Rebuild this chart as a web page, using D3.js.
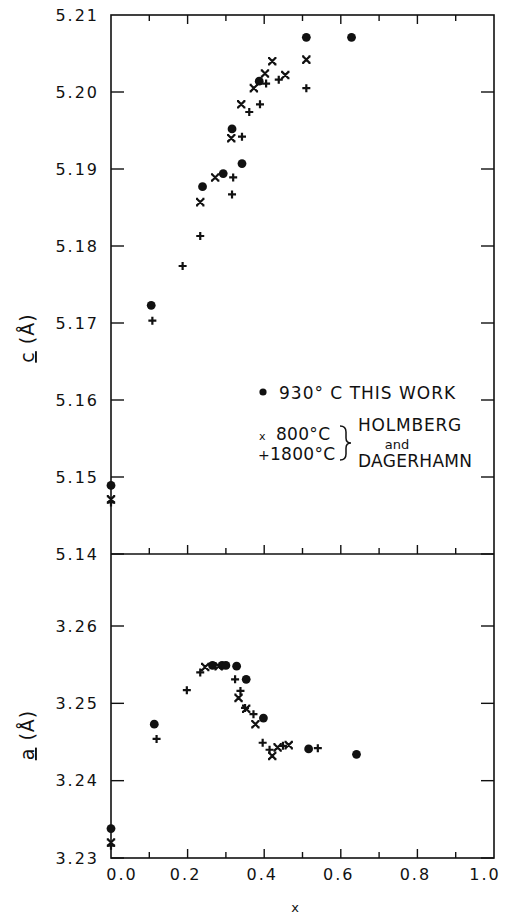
<!doctype html>
<html lang="en">
<head>
<meta charset="utf-8">
<title>c and a vs x</title>
<script src="https://d3js.org/d3.v7.min.js"></script>
<style>
  body { margin: 0; background: #fff; }
  svg { display: block; font-family: 'DejaVu Sans', sans-serif; }
  .tick-label { font-size: 16px; letter-spacing: 2px; fill: #111; }
  .legend { font-size: 16px; fill: #111; }
</style>
</head>
<body>
<svg id="chart" width="506" height="917"></svg>
<script>
// c(Å) panel
const cWorkX = [0, 0.105, 0.239, 0.293, 0.316, 0.342, 0.387, 0.510, 0.628];
const cWork  = [5.1489, 5.1723, 5.1877, 5.1894, 5.1952, 5.1907, 5.2014, 5.2071, 5.2071];
const c800X  = [0, 0.233, 0.272, 0.314, 0.340, 0.373, 0.402, 0.421, 0.455, 0.510];
const c800   = [5.1471, 5.1857, 5.1889, 5.1940, 5.1984, 5.2005, 5.2024, 5.2040, 5.2022, 5.2042];
const c1800X = [0, 0.108, 0.187, 0.233, 0.316, 0.319, 0.342, 0.361, 0.389, 0.405, 0.438, 0.510];
const c1800  = [5.1467, 5.1703, 5.1774, 5.1813, 5.1867, 5.1889, 5.1942, 5.1974, 5.1984, 5.2011, 5.2016, 5.2005];

// a(Å) panel
const aWorkX = [0, 0.113, 0.265, 0.290, 0.300, 0.328, 0.353, 0.398, 0.516, 0.641];
const aWork  = [3.2338, 3.2473, 3.2549, 3.2549, 3.2549, 3.2548, 3.2531, 3.2481, 3.2441, 3.2434];
const a800X  = [0, 0.246, 0.281, 0.333, 0.353, 0.377, 0.421, 0.435, 0.464];
const a800   = [3.2320, 3.2547, 3.2548, 3.2507, 3.2493, 3.2473, 3.2432, 3.2443, 3.2446];
const a1800X = [0, 0.119, 0.198, 0.233, 0.324, 0.338, 0.350, 0.372, 0.396, 0.414, 0.449, 0.540];
const a1800  = [3.2316, 3.2454, 3.2517, 3.2540, 3.2531, 3.2516, 3.2494, 3.2486, 3.2449, 3.2440, 3.2445, 3.2442];

const cTicks = [5.14, 5.15, 5.16, 5.17, 5.18, 5.19, 5.20, 5.21];
const aTicks = [3.23, 3.24, 3.25, 3.26];
const xTicks = [0, 0.1, 0.2, 0.3, 0.4, 0.5, 0.6, 0.7, 0.8, 0.9, 1.0];

const svg = d3.select("#chart");
const x = d3.scaleLinear().domain([0, 1]).range([111, 494]);
const yc = d3.scaleLinear().domain([5.14, 5.21]).range([554, 15]);
const ya = d3.scaleLinear().domain([3.23, 3.26]).range([858, 626]);
const xLeft = x(0), xRight = x(1);
const yTop = yc(5.21), yMid = yc(5.14), yBot = ya(3.23);

const ink = "#111";

// frame
svg.append("rect").attr("x", xLeft).attr("y", yTop)
  .attr("width", xRight - xLeft).attr("height", yBot - yTop)
  .attr("fill", "none").attr("stroke", ink).attr("stroke-width", 1.6);
svg.append("line").attr("x1", xLeft).attr("x2", xRight).attr("y1", yMid).attr("y2", yMid)
  .attr("stroke", ink).attr("stroke-width", 1.6);

// x ticks: top edge (down), panel divider (up), bottom (up)
function xTickLen(d) { return Math.round(d * 10) % 2 === 0 ? 9 : 6; }
[[yTop, 1], [yMid, -1], [yBot, -1]].forEach(([y0, dir]) => {
  svg.append("g").selectAll("line").data(xTicks.slice(1, -1)).join("line")
    .attr("x1", d => x(d)).attr("x2", d => x(d))
    .attr("y1", y0).attr("y2", d => y0 + dir * xTickLen(d))
    .attr("stroke", ink).attr("stroke-width", 1.4);
});

// y ticks inward on both sides
function yTicks(scale, ticks) {
  const g = svg.append("g");
  g.selectAll("line.l").data(ticks).join("line").attr("class", "l")
    .attr("x1", xLeft).attr("x2", xLeft + 13)
    .attr("y1", d => scale(d)).attr("y2", d => scale(d))
    .attr("stroke", ink).attr("stroke-width", 1.4);
  g.selectAll("line.r").data(ticks).join("line").attr("class", "r")
    .attr("x1", xRight).attr("x2", xRight - 13)
    .attr("y1", d => scale(d)).attr("y2", d => scale(d))
    .attr("stroke", ink).attr("stroke-width", 1.4);
  g.selectAll("text").data(ticks).join("text").attr("class", "tick-label")
    .attr("x", xLeft - 12).attr("y", d => scale(d)).attr("dy", "0.36em")
    .attr("text-anchor", "end")
    .text(d => d.toFixed(2));
}
yTicks(yc, cTicks.filter(d => d < 5.205));
yTicks(ya, aTicks);
// top label sits on the frame line, no inner tick
svg.append("text").attr("class", "tick-label").attr("x", xLeft - 12).attr("y", yc(5.21))
  .attr("dy", "0.36em").attr("text-anchor", "end").text("5.21");

// x tick labels (first and last nudged inward, as in the original)
svg.append("g").selectAll("text").data([0, 0.2, 0.4, 0.6, 0.8, 1.0]).join("text")
  .attr("class", "tick-label")
  .attr("x", d => x(d) + (d === 0 ? 11 : d === 1 ? -9 : -2)).attr("y", yBot + 22)
  .attr("text-anchor", "middle")
  .text(d => d.toFixed(1));

svg.append("text").attr("x", 295).attr("y", 912).attr("text-anchor", "middle")
  .attr("font-size", 13).attr("fill", ink).text("x");

// axis titles
function yTitle(letter, cx, cy) {
  const g = svg.append("g").attr("transform", `translate(${cx},${cy}) rotate(-90)`);
  const t = g.append("text").attr("text-anchor", "middle").attr("font-size", 19)
    .attr("fill", ink).attr("letter-spacing", 1);
  t.append("tspan").attr("text-decoration", "underline").text(letter);
  t.append("tspan").text(" (Å)");
}
yTitle("c", 34, 338);
yTitle("a", 34, 735);

// markers
function dots(xs, ys, scale) {
  svg.append("g").selectAll("circle").data(xs).join("circle")
    .attr("cx", d => x(d)).attr("cy", (d, i) => scale(ys[i])).attr("r", 4.4)
    .attr("fill", ink);
}
function crosses(xs, ys, scale) {
  const s = 3.2;
  svg.append("g").selectAll("path").data(xs).join("path")
    .attr("d", (d, i) => {
      const px = x(d), py = scale(ys[i]);
      return `M${px - s},${py - s}L${px + s},${py + s}M${px + s},${py - s}L${px - s},${py + s}`
        + `M${px - s - 1},${py - s}h2M${px + s - 1},${py - s}h2M${px - s - 1},${py + s}h2M${px + s - 1},${py + s}h2`;
    })
    .attr("stroke", ink).attr("stroke-width", 2.2).attr("fill", "none");
}
function pluses(xs, ys, scale) {
  const s = 4;
  svg.append("g").selectAll("path").data(xs).join("path")
    .attr("d", (d, i) => {
      const px = x(d), py = scale(ys[i]);
      return `M${px - s},${py}L${px + s},${py}M${px},${py - s}L${px},${py + s}`;
    })
    .attr("stroke", ink).attr("stroke-width", 2.2).attr("fill", "none");
}
dots(cWorkX, cWork, yc);
crosses(c800X, c800, yc);
pluses(c1800X, c1800, yc);
dots(aWorkX, aWork, ya);
crosses(a800X, a800, ya);
pluses(a1800X, a1800, ya);

// legend
const lg = svg.append("g").attr("class", "legend");
lg.append("circle").attr("cx", 263).attr("cy", 392).attr("r", 3.6).attr("fill", ink);
lg.append("text").attr("x", 279).attr("y", 399).attr("font-size", 17)
  .attr("letter-spacing", 1).text("930° C THIS WORK");
lg.append("text").attr("x", 259).attr("y", 440).attr("font-size", 11).text("x");
lg.append("text").attr("x", 276).attr("y", 440).attr("font-size", 17).attr("letter-spacing", 0.3).text("800°C");
lg.append("text").attr("x", 258).attr("y", 460).attr("font-size", 14).text("+");
lg.append("text").attr("x", 270).attr("y", 460).attr("font-size", 17).attr("letter-spacing", 0.3).text("1800°C");
lg.append("path")
  .attr("d", "M340,426 q6,0 6,6 v6 q0,5 5,5 q-5,0 -5,5 v6 q0,6 -6,6")
  .attr("fill", "none").attr("stroke", ink).attr("stroke-width", 1.5);
lg.append("text").attr("x", 358).attr("y", 431).attr("font-size", 17).attr("letter-spacing", 0.8).text("HOLMBERG");
lg.append("text").attr("x", 397).attr("y", 449).attr("font-size", 13).attr("text-anchor", "middle").text("and");
lg.append("text").attr("x", 358).attr("y", 467).attr("font-size", 17).attr("letter-spacing", 0.3).text("DAGERHAMN");
</script>
</body>
</html>
